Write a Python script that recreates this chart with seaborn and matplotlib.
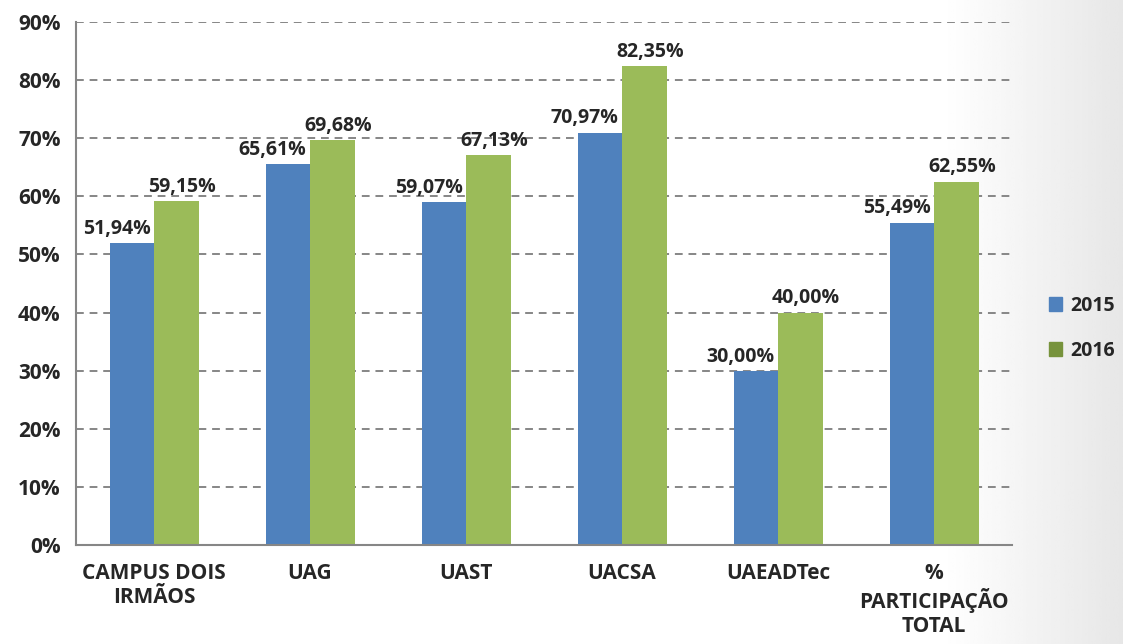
import numpy as np
import pandas as pd
import matplotlib
matplotlib.use("Agg")
import matplotlib.pyplot as plt
import seaborn as sns
from matplotlib.patches import Patch

# data
categories = ["CAMPUS DOIS\nIRMÃOS", "UAG", "UAST", "UACSA", "UAEADTec", "%\nPARTICIPAÇÃO\nTOTAL"]
years = ["2015", "2016"]
values_2015 = [51.94, 65.61, 59.07, 70.97, 30.00, 55.49]
values_2016 = [59.15, 69.68, 67.13, 82.35, 40.00, 62.55]
y_ticks = [0, 10, 20, 30, 40, 50, 60, 70, 80, 90]

bar_colors = {"2015": "#4F81BD", "2016": "#9BBB59"}
legend_colors = {"2015": "#4F81BD", "2016": "#77933C"}

df = pd.DataFrame({
    "categoria": categories * 2,
    "ano": ["2015"] * len(categories) + ["2016"] * len(categories),
    "valor": values_2015 + values_2016,
})

sns.set_style("white")
plt.rcParams["font.family"] = ["Open Sans", "DejaVu Sans"]
plt.rcParams["font.weight"] = "bold"

fig = plt.figure(figsize=(11.23, 6.44), dpi=100)

# grey gradient on the right side of the background
bg = fig.add_axes([0, 0, 1, 1], zorder=-10)
xs = np.linspace(0, 1, 400)
shade = np.clip((xs - 0.84) / 0.16, 0, 1)
grad = 1 - shade * (1 - 0.905)
bg.imshow(np.tile(grad, (2, 1)), cmap="gray", vmin=0, vmax=1, aspect="auto", extent=[0, 1, 0, 1])
bg.set_axis_off()

ax = fig.add_axes([0.0677, 0.1537, 0.9013 - 0.0677, 0.9658 - 0.1537])
ax.patch.set_alpha(0)

sns.barplot(data=df, x="categoria", y="valor", hue="ano", palette=bar_colors,
            width=0.57, saturation=1, linewidth=0, ax=ax, legend=False)

ax.set_ylim(0, 90)
ax.set_xlim(-0.5, len(categories) - 0.5)
ax.set_yticks(y_ticks)
ax.set_yticklabels([f"{t}%" for t in y_ticks], fontsize=15, fontweight="bold")
ax.set_xlabel("")
ax.set_ylabel("")
ax.set_xticks(range(len(categories)))
ax.set_xticklabels(categories, fontsize=15, fontweight="bold", linespacing=1.2)
ax.set_xticks(np.arange(-0.5, len(categories), 1), minor=True)
ax.tick_params(axis="x", which="major", length=0, pad=13)
ax.tick_params(axis="x", which="minor", length=6, width=1.5, color="#868686", direction="out")
ax.tick_params(axis="y", length=6, width=1.5, color="#868686", direction="out", pad=5)

ax.yaxis.grid(True, linestyle=(0, (4, 3)), color="#868686", linewidth=1.4)
ax.set_axisbelow(True)
for side in ["top", "right"]:
    ax.spines[side].set_visible(False)
for side in ["left", "bottom"]:
    ax.spines[side].set_color("#868686")
    ax.spines[side].set_linewidth(1.5)

# value labels
offsets = {"2015": -11, "2016": 4}
for container, year in zip(ax.containers, years):
    for bar in container:
        h = bar.get_height()
        ax.annotate(f"{h:.2f}%".replace(".", ","),
                    (bar.get_x() + bar.get_width() / 2, h),
                    xytext=(offsets[year], 3), textcoords="offset points",
                    ha="center", va="bottom", fontsize=14, fontweight="bold")

handles = [Patch(color=legend_colors[y], label=y) for y in years]
fig.legend(handles=handles, loc="center left", bbox_to_anchor=(0.934, 0.49),
           frameon=False, prop={"size": 14, "weight": "bold"}, borderpad=0,
           borderaxespad=0, handlelength=0.7, handleheight=0.7, handletextpad=0.4,
           labelspacing=1.3)

fig.savefig("out.png", dpi=100)
